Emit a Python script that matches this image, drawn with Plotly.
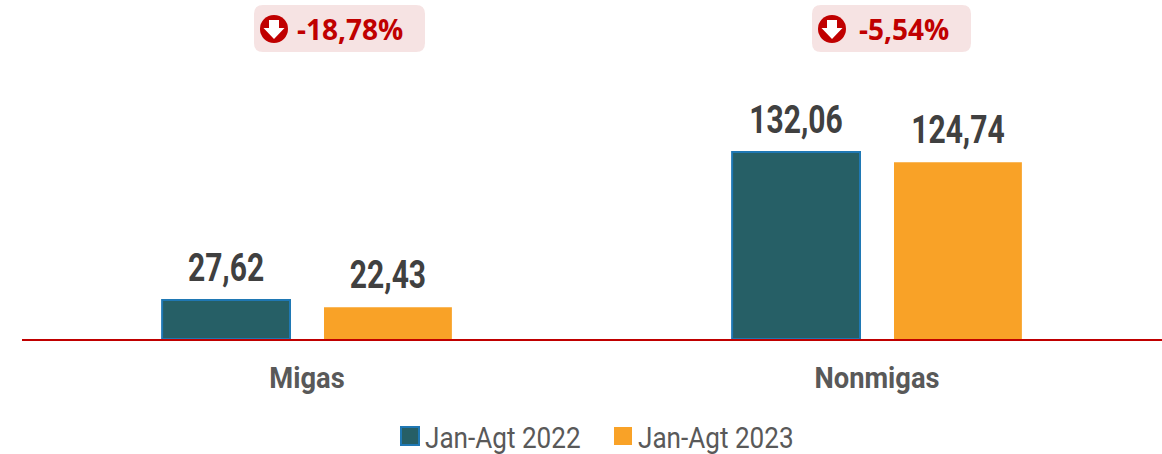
import plotly.graph_objects as go

categories = ["Migas", "Nonmigas"]
series_2022 = [27.62, 132.06]
series_2023 = [22.43, 124.74]
names = ["Jan-Agt 2022", "Jan-Agt 2023"]
badges = ["-18,78%", "-5,54%"]

W, H = 1162, 454
L, B = 22, 115
TEAL, ORANGE, RED, PINK = "#265f66", "#f9a227", "#c00000", "#f6e3e3"
FONT = "Roboto, sans-serif"


def px(x):
    return (x - L) / (W - L)


def py(y):
    return 1 - y / (H - B)


def badge_shape(x0, x1, y0, y1, r=9):
    p = (f"M{px(x0+r)},{py(y0)} L{px(x1-r)},{py(y0)} Q{px(x1)},{py(y0)} {px(x1)},{py(y0+r)} "
         f"L{px(x1)},{py(y1-r)} Q{px(x1)},{py(y1)} {px(x1-r)},{py(y1)} "
         f"L{px(x0+r)},{py(y1)} Q{px(x0)},{py(y1)} {px(x0)},{py(y1-r)} "
         f"L{px(x0)},{py(y0+r)} Q{px(x0)},{py(y0)} {px(x0+r)},{py(y0)} Z")
    return dict(type="path", xref="paper", yref="paper", path=p, fillcolor=PINK, line_width=0, layer="below")


def icon(cx, cy, r=14):
    circle = dict(type="circle", xref="paper", yref="paper", x0=px(cx-r), x1=px(cx+r),
                  y0=py(cy+r), y1=py(cy-r), fillcolor=RED, line_width=0)
    pts = [(-5, -9), (5, -9), (5, -1), (10.5, -1), (0, 10), (-10.5, -1), (-5, -1)]
    path = "M" + " L".join(f"{px(cx+a)},{py(cy+b)}" for a, b in pts) + " Z"
    arrow = dict(type="path", xref="paper", yref="paper", path=path, fillcolor="white", line_width=0)
    return [circle, arrow]


label_font = dict(family=FONT, size=38, color="#404040", weight=700)
fig = go.Figure()
fig.add_bar(x=categories, y=series_2022, name=names[0], marker=dict(color=TEAL, line=dict(color="#1f78b4", width=2)),
            texttemplate="%{y:.2f}", textposition="outside", cliponaxis=False, constraintext="none",
            textfont=label_font)
fig.add_bar(x=categories, y=series_2023, name=names[1], marker=dict(color=ORANGE, line=dict(width=0)),
            texttemplate="%{y:.2f}", textposition="outside", cliponaxis=False, constraintext="none",
            textfont=label_font)

shapes = [badge_shape(254, 425, 5, 52), badge_shape(812, 971, 5, 52)]
shapes += icon(274, 29) + icon(832, 29)

badge_font = dict(family="Open Sans, Noto Sans, sans-serif", size=28, color=RED, weight=700)
annotations = [
    dict(x=px(295), y=py(29), xref="paper", yref="paper", text=badges[0], showarrow=False,
         xanchor="left", yanchor="middle", font=badge_font),
    dict(x=px(857), y=py(29), xref="paper", yref="paper", text=badges[1], showarrow=False,
         xanchor="left", yanchor="middle", font=badge_font),
]

fig.update_layout(
    width=W, height=H, autosize=False,
    margin=dict(l=L, r=0, t=0, b=B, pad=0),
    paper_bgcolor="white", plot_bgcolor="white",
    barmode="group", bargap=0.432, bargroupgap=0.21,
    separators=",.",
    shapes=shapes, annotations=annotations,
    showlegend=True,
    legend=dict(orientation="h", xref="container", yref="container", x=385 / W, xanchor="left",
                y=1 - 436 / H, yanchor="middle",
                font=dict(family=FONT, size=30, color="#595959"),
                bgcolor="rgba(0,0,0,0)", itemwidth=30, entrywidth=168, entrywidthmode="pixels"),
    xaxis=dict(showline=True, linecolor=RED, linewidth=2, ticks="", showgrid=False, zeroline=False,
               tickfont=dict(family=FONT, size=30, color="#595959", weight=700), ticklabelstandoff=11),
    yaxis=dict(range=[0, 239.4], visible=False, showgrid=False, zeroline=False),
)

# The reference text is a narrow face, which is not installed: condense the real text horizontally.
post = """
document.body.style.margin = '0';
var gd = document.getElementById('{plot_id}');
function squeeze(sel, f) {
  gd.querySelectorAll(sel).forEach(function (t) {
    t.setAttribute('textLength', t.getComputedTextLength() * f);
    t.setAttribute('lengthAdjust', 'spacingAndGlyphs');
  });
}
squeeze('text.bartext', 0.79);
squeeze('.xtick text', 0.91);
squeeze('text.legendtext', 0.87);
gd.querySelectorAll('text.bartext').forEach(function (t) {
  t.setAttribute('transform', 'translate(0,-7) ' + (t.getAttribute('transform') || ''));
});
gd.querySelectorAll('.legendpoints path').forEach(function (p) {
  p.setAttribute('d', 'M14,9H-4V-9H14Z');
});
"""
fig.write_html("out.html", config={"displayModeBar": False}, post_script=post)
